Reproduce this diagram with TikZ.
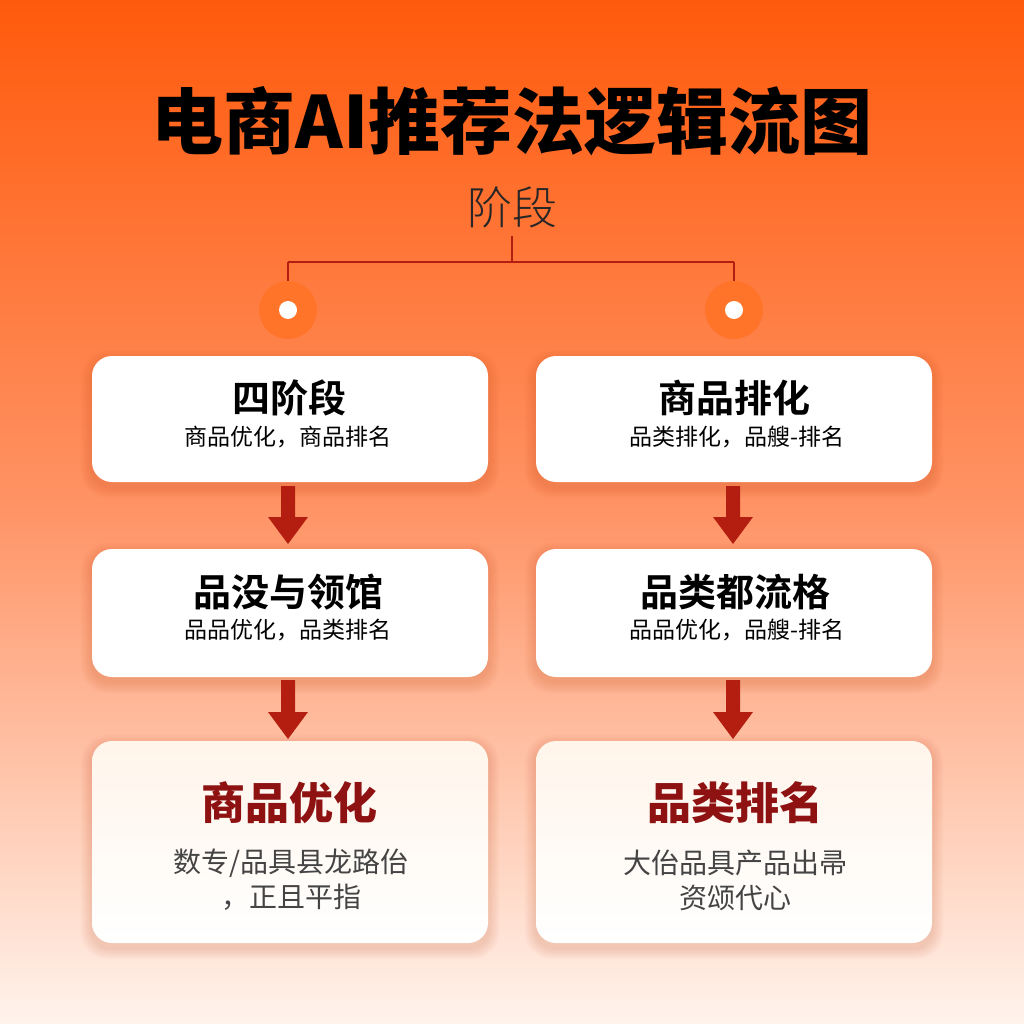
\documentclass[tikz,border=0pt]{standalone}
\usepackage{fontspec}
\setmainfont{Noto Sans CJK SC}
\newfontfamily\cjk{Noto Sans CJK SC}
\newfontfamily\cjkbold{Noto Sans CJK SC Bold}
\newfontfamily\cjkblack{Noto Sans CJK SC Black}
\newfontfamily\cjklight{Noto Sans CJK SC Light}
\definecolor{bgtop}{HTML}{FF5A0C}
\definecolor{bgmid}{HTML}{FF9466}
\definecolor{bgbot}{HTML}{FFF3EC}
\definecolor{darkred}{HTML}{B41E10}
\definecolor{titlered}{HTML}{8E1212}
\definecolor{dotorange}{HTML}{FF7428}
\definecolor{bodygray}{HTML}{444444}
\definecolor{shadowcol}{HTML}{B03000}
\newcommand{\cardshadow}[4]{%
  \foreach \s in {1,...,7}{
    \fill[shadowcol, opacity=0.025, rounded corners=20pt+\s pt]
      (#1-\s*1.6, #2-\s*1.6+5) rectangle (#3+\s*1.6, #4+\s*1.6+5);
  }}
\tikzset{
  card/.style={fill=white, rounded corners=20pt, draw=none},
  softcard/.style={top color=white!92!orange, bottom color=white, rounded corners=20pt, draw=none},
  cardtitle/.style={font=\cjkbold\fontsize{38}{42}\selectfont, text=black, inner sep=0pt},
  cardsub/.style={font=\cjk\fontsize{23}{26}\selectfont, text=black, inner sep=0pt},
  endtitle/.style={font=\cjkblack\fontsize{44}{50}\selectfont, text=titlered, inner sep=0pt},
  endbody/.style={font=\cjk\fontsize{28}{35}\selectfont, text=bodygray, inner sep=0pt, align=center},
  link/.style={draw=darkred, line width=2.5pt},
  flowarrow/.style={darkred, fill=darkred, draw=none},
  dot/.style={circle, fill=dotorange, minimum size=58pt, inner sep=0pt},
  hole/.style={circle, fill=white, minimum size=18pt, inner sep=0pt},
}
\begin{document}
\begin{tikzpicture}[x=1pt,y=-1pt]
% background
\shade[top color=bgtop, bottom color=bgmid] (0,0) rectangle (1024,512);
\shade[top color=bgmid, bottom color=bgbot] (0,512) rectangle (1024,1024);
\useasboundingbox (0,0) rectangle (1024,1024);

% title
\node[font=\cjkblack\fontsize{72}{80}\selectfont, inner sep=0pt] (title) at (512,121) {电商AI推荐法逻辑流图};
\node[font=\cjklight\fontsize{45}{50}\selectfont, text=black!85, inner sep=0pt] (stage) at (512,207) {阶段};

% connector tree
\coordinate (top) at (512,236);
\coordinate (mid) at (512,262);
\coordinate (lc) at (288,262);
\coordinate (rc) at (734,262);
\node[dot] (ldot) at (288,310) {};
\node[dot] (rdot) at (734,310) {};
\node[hole] at (ldot) {};
\node[hole] at (rdot) {};
\draw[link] (top) -- (mid);
\draw[link] (lc) -- (rc);
\draw[link] (lc) -- (288,281);
\draw[link] (rc) -- (734,281);

% card shadows
\cardshadow{92}{356}{488}{482}
\cardshadow{536}{356}{932}{482}
\cardshadow{92}{549}{488}{677}
\cardshadow{536}{549}{932}{677}
\cardshadow{92}{741}{488}{943}
\cardshadow{536}{741}{932}{943}

% cards
\path[card] (92,356) rectangle (488,482);
\path[card] (536,356) rectangle (932,482);
\path[card] (92,549) rectangle (488,677);
\path[card] (536,549) rectangle (932,677);
\path[softcard] (92,741) rectangle (488,943);
\path[softcard] (536,741) rectangle (932,943);

\node[cardtitle] (l1t) at (289,398) {四阶段};
\node[cardsub] (l1s) at (288,437) {商品优化，商品排名};
\node[cardtitle] (r1t) at (734,398) {商品排化};
\node[cardsub] (r1s) at (737,437) {品类排化，品艘-排名};

\node[cardtitle] (l2t) at (288,592) {品没与领馆};
\node[cardsub] (l2s) at (288,630) {品品优化，品类排名};
\node[cardtitle] (r2t) at (735,592) {品类都流格};
\node[cardsub] (r2s) at (737,630) {品品优化，品艘-排名};

\node[endtitle] (l3t) at (289,803) {商品优化};
\node[endbody] (l3b) at (291,880) {数专/品具县龙路佁\\，正且平指};
\node[endtitle] (r3t) at (735,803) {品类排名};
\node[endbody] (r3b) at (735,880) {大佁品具产品出帚\\资颂代心};

% arrows
\foreach \x in {288,733}{
  \fill[flowarrow] (\x-7,486) -- (\x+7,486) -- (\x+7,517) -- (\x+20,517) -- (\x,544) -- (\x-20,517) -- (\x-7,517) -- cycle;
  \fill[flowarrow] (\x-7,680) -- (\x+7,680) -- (\x+7,712) -- (\x+20,712) -- (\x,739) -- (\x-20,712) -- (\x-7,712) -- cycle;
}
\end{tikzpicture}
\end{document}
